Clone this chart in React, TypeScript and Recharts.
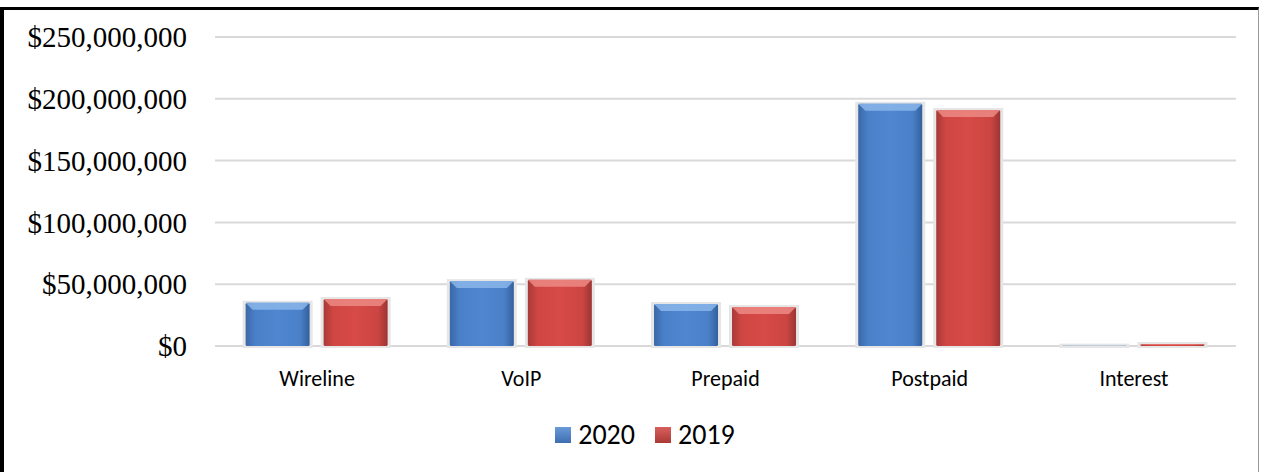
import { Bar, BarChart, CartesianGrid, Legend, XAxis, YAxis } from "recharts"

const categories = ["Wireline", "VoIP", "Prepaid", "Postpaid", "Interest"]
const values2020 = [35000000, 52500000, 34000000, 196000000, 300000]
const values2019 = [38000000, 53500000, 31500000, 191000000, 1600000]
const yTicks = [0, 50000000, 100000000, 150000000, 200000000, 250000000]

const data = categories.map((name, i) => ({ name, y2020: values2020[i], y2019: values2019[i] }))

const fmtMoney = (v: number) => "$" + v.toLocaleString("en-US")

function BevelBar(props: any) {
  const { x, y, width, height, tone } = props
  if (!height || height <= 0) return null
  const id = tone === "blue" ? "gBlue" : "gRed"
  const top = tone === "blue" ? "#8ab6ea" : "#ec8a84"
  const bev = Math.min(7, height / 3)
  return (
    <g>
      <rect x={x - 3} y={y - 2} width={width + 6} height={height + 4} fill="#e6e6e6" />
      <rect x={x} y={y} width={width} height={height} fill={`url(#${id})`} rx={1.5} />
      <polygon
        points={`${x},${y} ${x + width},${y} ${x + width - bev},${y + bev} ${x + bev},${y + bev}`}
        fill={top}
        opacity={0.85}
      />
    </g>
  )
}

function LegendBox() {
  const item = (label: string, c1: string, c2: string) => (
    <span style={{ display: "inline-flex", alignItems: "center", margin: "0 10px" }}>
      <span
        style={{
          display: "inline-block",
          width: 16,
          height: 16,
          background: `linear-gradient(${c1}, ${c2})`,
          marginRight: 7,
        }}
      />
      {label}
    </span>
  )
  return (
    <div
      style={{
        textAlign: "center",
        paddingLeft: 54,
        fontFamily: "Carlito, Lato, 'Open Sans', sans-serif",
        fontSize: 28,
        color: "#000",
        lineHeight: "32px",
      }}
    >
      {item("2020", "#6a9ad8", "#3d6eb0")}
      {item("2019", "#d8605c", "#aa3a37")}
    </div>
  )
}

export default function App() {
  return (
    <div style={{ position: "absolute", left: 0, top: 0, width: 1262, height: 472, background: "#fff" }}>
      <div
        style={{
          position: "absolute",
          left: 0,
          top: 7,
          width: 1259,
          height: 465,
          borderLeft: "4px solid #000",
          borderTop: "3px solid #000",
          borderRight: "1px solid #9a9a9a",
          boxSizing: "border-box",
        }}
      />
      <BarChart
        width={1262}
        height={472}
        data={data}
        margin={{ top: 37, right: 26, left: 0, bottom: 33 }}
        barCategoryGap="15%"
        barGap={14}
        style={{ position: "absolute", left: 0, top: 0 }}
      >
        <defs>
          <linearGradient id="gBlue" x1="0" y1="0" x2="1" y2="0">
            <stop offset="0" stopColor="#3a68a6" />
            <stop offset="0.15" stopColor="#4a80c8" />
            <stop offset="0.5" stopColor="#4f86cf" />
            <stop offset="0.85" stopColor="#4a80c8" />
            <stop offset="1" stopColor="#33609c" />
          </linearGradient>
          <linearGradient id="gRed" x1="0" y1="0" x2="1" y2="0">
            <stop offset="0" stopColor="#a83a37" />
            <stop offset="0.15" stopColor="#cf4643" />
            <stop offset="0.5" stopColor="#d64a47" />
            <stop offset="0.85" stopColor="#cc4542" />
            <stop offset="1" stopColor="#9c3532" />
          </linearGradient>
        </defs>
        <CartesianGrid stroke="#d9d9d9" strokeWidth={2} vertical={false} />
        <XAxis
          dataKey="name"
          axisLine={false}
          tickLine={false}
          height={60}
          tick={{ fontFamily: "Carlito, Lato, 'Open Sans', sans-serif", fontSize: 22, fill: "#000" }}
          tickMargin={18}
        />
        <YAxis
          width={215}
          domain={[0, 250000000]}
          ticks={yTicks}
          axisLine={false}
          tickLine={false}
          tickFormatter={fmtMoney}
          tickMargin={22}
          tick={{ fontFamily: "'Liberation Serif', 'Times New Roman', serif", fontSize: 29, fill: "#000" }}
        />
        <Legend verticalAlign="bottom" content={() => <LegendBox />} wrapperStyle={{ bottom: 21 }} />
        <Bar dataKey="y2020" name="2020" isAnimationActive={false} shape={(p: any) => <BevelBar {...p} tone="blue" />} />
        <Bar dataKey="y2019" name="2019" isAnimationActive={false} shape={(p: any) => <BevelBar {...p} tone="red" />} />
      </BarChart>
    </div>
  )
}
